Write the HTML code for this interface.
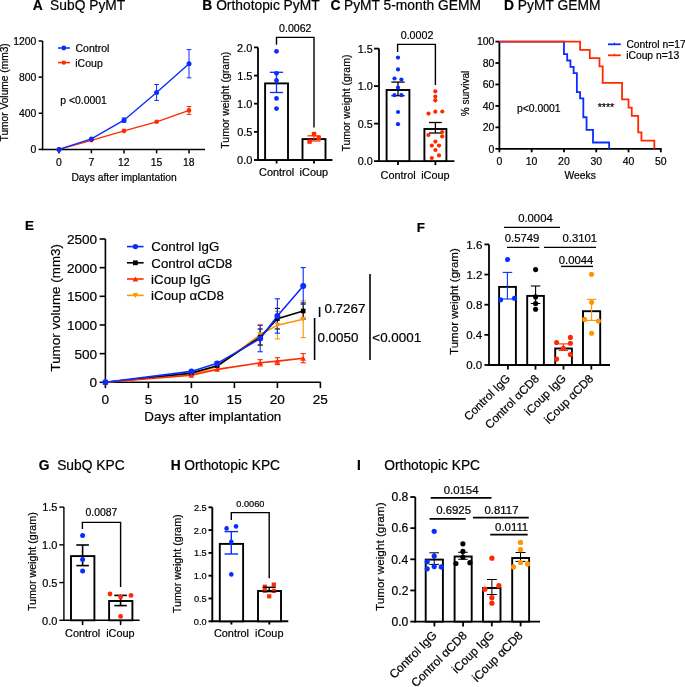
<!DOCTYPE html>
<html><head><meta charset="utf-8"><style>
html,body{margin:0;padding:0;background:#fff;}
svg{display:block;will-change:transform;}
text{font-family:"Liberation Sans",sans-serif;stroke:currentColor;stroke-width:0.2px;}
</style></head><body>
<svg width="685" height="687" viewBox="0 0 685 687">
<rect width="685" height="687" fill="#fff"/>
<text x="32.76" y="9.70" font-size="13.8" font-weight="bold" fill="#000">A</text>
<text x="50.08" y="9.70" font-size="13.8" fill="#000">SubQ PyMT</text>
<line x1="42.60" y1="41.00" x2="42.60" y2="150.20" stroke="#000" stroke-width="1.5" stroke-linecap="butt"/>
<line x1="38.60" y1="149.40" x2="42.60" y2="149.40" stroke="#000" stroke-width="1.5" stroke-linecap="butt"/>
<text x="30.62" y="153.42" font-size="10.4" fill="#000">0</text>
<line x1="38.60" y1="113.27" x2="42.60" y2="113.27" stroke="#000" stroke-width="1.5" stroke-linecap="butt"/>
<text x="19.05" y="117.29" font-size="10.4" fill="#000">400</text>
<line x1="38.60" y1="77.13" x2="42.60" y2="77.13" stroke="#000" stroke-width="1.5" stroke-linecap="butt"/>
<text x="19.05" y="81.16" font-size="10.4" fill="#000">800</text>
<line x1="38.60" y1="41.00" x2="42.60" y2="41.00" stroke="#000" stroke-width="1.5" stroke-linecap="butt"/>
<text x="13.28" y="45.02" font-size="10.4" fill="#000">1200</text>
<line x1="41.85" y1="149.40" x2="205.00" y2="149.40" stroke="#000" stroke-width="1.5" stroke-linecap="butt"/>
<line x1="59.00" y1="149.40" x2="59.00" y2="153.40" stroke="#000" stroke-width="1.5" stroke-linecap="butt"/>
<text x="56.10" y="166.32" font-size="10.4" fill="#000">0</text>
<line x1="91.40" y1="149.40" x2="91.40" y2="153.40" stroke="#000" stroke-width="1.5" stroke-linecap="butt"/>
<text x="88.50" y="166.32" font-size="10.4" fill="#000">7</text>
<line x1="124.00" y1="149.40" x2="124.00" y2="153.40" stroke="#000" stroke-width="1.5" stroke-linecap="butt"/>
<text x="118.10" y="166.32" font-size="10.4" fill="#000">12</text>
<line x1="156.60" y1="149.40" x2="156.60" y2="153.40" stroke="#000" stroke-width="1.5" stroke-linecap="butt"/>
<text x="150.65" y="166.32" font-size="10.4" fill="#000">15</text>
<line x1="189.00" y1="149.40" x2="189.00" y2="153.40" stroke="#000" stroke-width="1.5" stroke-linecap="butt"/>
<text x="183.06" y="166.32" font-size="10.4" fill="#000">18</text>
<text x="71.44" y="181.30" font-size="10.3" fill="#000">Days after implantation</text>
<text transform="translate(8.20,141.41) rotate(-90)" font-size="10.2" fill="#000">Tumor Volume (mm3)</text>
<line x1="58.00" y1="48.00" x2="70.00" y2="48.00" stroke="#0a2dff" stroke-width="1.5" stroke-linecap="butt"/>
<circle cx="63.80" cy="48.00" r="2.4" fill="#0a2dff"/>
<text x="75.47" y="52.06" font-size="10.5" fill="#000">Control</text>
<line x1="58.00" y1="62.60" x2="70.00" y2="62.60" stroke="#ff2a00" stroke-width="1.5" stroke-linecap="butt"/>
<circle cx="63.80" cy="62.60" r="2.2" fill="#ff2a00"/>
<text x="75.29" y="66.66" font-size="10.5" fill="#000">iCoup</text>
<text x="60.32" y="103.92" font-size="10.4" fill="#000">p &lt;0.0001</text>
<line x1="189.00" y1="49.60" x2="189.00" y2="77.80" stroke="#0a2dff" stroke-width="1.0" stroke-linecap="butt"/>
<line x1="186.70" y1="49.60" x2="191.30" y2="49.60" stroke="#0a2dff" stroke-width="1.0" stroke-linecap="butt"/>
<line x1="186.70" y1="77.80" x2="191.30" y2="77.80" stroke="#0a2dff" stroke-width="1.0" stroke-linecap="butt"/>
<line x1="156.60" y1="84.50" x2="156.60" y2="100.40" stroke="#0a2dff" stroke-width="1.0" stroke-linecap="butt"/>
<line x1="154.30" y1="84.50" x2="158.90" y2="84.50" stroke="#0a2dff" stroke-width="1.0" stroke-linecap="butt"/>
<line x1="154.30" y1="100.40" x2="158.90" y2="100.40" stroke="#0a2dff" stroke-width="1.0" stroke-linecap="butt"/>
<line x1="124.00" y1="118.00" x2="124.00" y2="122.40" stroke="#0a2dff" stroke-width="1.0" stroke-linecap="butt"/>
<line x1="121.70" y1="118.00" x2="126.30" y2="118.00" stroke="#0a2dff" stroke-width="1.0" stroke-linecap="butt"/>
<line x1="121.70" y1="122.40" x2="126.30" y2="122.40" stroke="#0a2dff" stroke-width="1.0" stroke-linecap="butt"/>
<line x1="189.00" y1="106.50" x2="189.00" y2="114.40" stroke="#ff2a00" stroke-width="1.0" stroke-linecap="butt"/>
<line x1="186.70" y1="106.50" x2="191.30" y2="106.50" stroke="#ff2a00" stroke-width="1.0" stroke-linecap="butt"/>
<line x1="186.70" y1="114.40" x2="191.30" y2="114.40" stroke="#ff2a00" stroke-width="1.0" stroke-linecap="butt"/>
<polyline points="59.00,149.40 91.40,140.30 124.00,130.90 156.60,121.80 189.00,110.40" fill="none" stroke="#ff2a00" stroke-width="1.4" stroke-linejoin="miter"/>
<polyline points="59.00,149.40 91.40,138.90 124.00,120.20 156.60,92.50 189.00,63.80" fill="none" stroke="#0a2dff" stroke-width="1.4" stroke-linejoin="miter"/>
<circle cx="59.00" cy="149.40" r="2.3" fill="#ff2a00"/>
<circle cx="91.40" cy="140.30" r="2.3" fill="#ff2a00"/>
<circle cx="124.00" cy="130.90" r="2.3" fill="#ff2a00"/>
<circle cx="156.60" cy="121.80" r="2.3" fill="#ff2a00"/>
<circle cx="189.00" cy="110.40" r="2.3" fill="#ff2a00"/>
<circle cx="59.00" cy="149.40" r="2.5" fill="#0a2dff"/>
<circle cx="91.40" cy="138.90" r="2.5" fill="#0a2dff"/>
<circle cx="124.00" cy="120.20" r="2.5" fill="#0a2dff"/>
<circle cx="156.60" cy="92.50" r="2.5" fill="#0a2dff"/>
<circle cx="189.00" cy="63.80" r="2.5" fill="#0a2dff"/>
<text x="202.27" y="9.70" font-size="13.8" font-weight="bold" fill="#000">B</text>
<text x="216.14" y="9.70" font-size="13.8" fill="#000">Orthotopic PyMT</text>
<line x1="258.00" y1="47.40" x2="258.00" y2="160.80" stroke="#000" stroke-width="1.8" stroke-linecap="butt"/>
<line x1="254.00" y1="160.00" x2="258.00" y2="160.00" stroke="#000" stroke-width="1.8" stroke-linecap="butt"/>
<text x="237.12" y="164.44" font-size="11.0" fill="#000">0.0</text>
<line x1="254.00" y1="131.85" x2="258.00" y2="131.85" stroke="#000" stroke-width="1.8" stroke-linecap="butt"/>
<text x="237.15" y="136.29" font-size="11.0" fill="#000">0.5</text>
<line x1="254.00" y1="103.70" x2="258.00" y2="103.70" stroke="#000" stroke-width="1.8" stroke-linecap="butt"/>
<text x="237.12" y="108.14" font-size="11.0" fill="#000">1.0</text>
<line x1="254.00" y1="75.55" x2="258.00" y2="75.55" stroke="#000" stroke-width="1.8" stroke-linecap="butt"/>
<text x="237.15" y="79.99" font-size="11.0" fill="#000">1.5</text>
<line x1="254.00" y1="47.40" x2="258.00" y2="47.40" stroke="#000" stroke-width="1.8" stroke-linecap="butt"/>
<text x="237.12" y="51.84" font-size="11.0" fill="#000">2.0</text>
<line x1="257.10" y1="160.00" x2="332.40" y2="160.00" stroke="#000" stroke-width="1.8" stroke-linecap="butt"/>
<line x1="276.60" y1="160.00" x2="276.60" y2="163.50" stroke="#000" stroke-width="1.8" stroke-linecap="butt"/>
<line x1="314.00" y1="160.00" x2="314.00" y2="163.50" stroke="#000" stroke-width="1.8" stroke-linecap="butt"/>
<text x="259.12" y="175.90" font-size="10.9" fill="#000">Control</text>
<text x="299.61" y="175.90" font-size="10.9" fill="#000">iCoup</text>
<text transform="translate(228.71,148.71) rotate(-90)" font-size="10.5" fill="#000">Tumor weight (gram)</text>
<rect x="265.10" y="83.40" width="22.90" height="76.60" fill="#fff" stroke="#000" stroke-width="1.9"/>
<rect x="302.50" y="139.10" width="23.00" height="20.90" fill="#fff" stroke="#000" stroke-width="1.9"/>
<line x1="276.50" y1="72.30" x2="276.50" y2="92.50" stroke="#0a2dff" stroke-width="1.3" stroke-linecap="butt"/>
<line x1="269.90" y1="72.30" x2="283.10" y2="72.30" stroke="#0a2dff" stroke-width="1.3" stroke-linecap="butt"/>
<line x1="269.90" y1="92.50" x2="283.10" y2="92.50" stroke="#0a2dff" stroke-width="1.3" stroke-linecap="butt"/>
<circle cx="276.50" cy="51.30" r="2.4" fill="#0a2dff"/>
<circle cx="276.50" cy="73.30" r="2.4" fill="#0a2dff"/>
<circle cx="276.50" cy="80.50" r="2.4" fill="#0a2dff"/>
<circle cx="276.50" cy="98.40" r="2.4" fill="#0a2dff"/>
<circle cx="276.50" cy="108.60" r="2.4" fill="#0a2dff"/>
<line x1="314.00" y1="135.80" x2="314.00" y2="141.00" stroke="#ff2a00" stroke-width="1.2" stroke-linecap="butt"/>
<line x1="307.50" y1="135.80" x2="320.50" y2="135.80" stroke="#ff2a00" stroke-width="1.2" stroke-linecap="butt"/>
<line x1="307.50" y1="141.00" x2="320.50" y2="141.00" stroke="#ff2a00" stroke-width="1.2" stroke-linecap="butt"/>
<rect x="307.40" y="139.40" width="4.4" height="4.4" fill="#ff2a00"/>
<rect x="311.80" y="131.80" width="4.4" height="4.4" fill="#ff2a00"/>
<rect x="316.50" y="135.90" width="4.4" height="4.4" fill="#ff2a00"/>
<polyline points="276.50,44.80 276.50,37.40 314.00,37.40 314.00,127.60" fill="none" stroke="#000" stroke-width="1.4" stroke-linejoin="miter"/>
<text x="279.05" y="32.19" font-size="10.6" fill="#000">0.0062</text>
<text x="330.55" y="9.70" font-size="13.8" font-weight="bold" fill="#000">C</text>
<text x="343.96" y="9.70" font-size="13.8" fill="#000">PyMT 5-month GEMM</text>
<line x1="379.00" y1="48.60" x2="379.00" y2="161.90" stroke="#000" stroke-width="1.8" stroke-linecap="butt"/>
<line x1="374.00" y1="161.10" x2="379.00" y2="161.10" stroke="#000" stroke-width="1.8" stroke-linecap="butt"/>
<text x="357.69" y="165.47" font-size="10.8" fill="#000">0.0</text>
<line x1="374.00" y1="123.60" x2="379.00" y2="123.60" stroke="#000" stroke-width="1.8" stroke-linecap="butt"/>
<text x="357.72" y="127.97" font-size="10.8" fill="#000">0.5</text>
<line x1="374.00" y1="86.10" x2="379.00" y2="86.10" stroke="#000" stroke-width="1.8" stroke-linecap="butt"/>
<text x="357.69" y="90.47" font-size="10.8" fill="#000">1.0</text>
<line x1="374.00" y1="48.60" x2="379.00" y2="48.60" stroke="#000" stroke-width="1.8" stroke-linecap="butt"/>
<text x="357.72" y="52.97" font-size="10.8" fill="#000">1.5</text>
<line x1="378.10" y1="161.10" x2="454.40" y2="161.10" stroke="#000" stroke-width="1.8" stroke-linecap="butt"/>
<line x1="398.00" y1="161.10" x2="398.00" y2="165.10" stroke="#000" stroke-width="1.8" stroke-linecap="butt"/>
<line x1="435.40" y1="161.10" x2="435.40" y2="165.10" stroke="#000" stroke-width="1.8" stroke-linecap="butt"/>
<text x="380.52" y="178.90" font-size="10.9" fill="#000">Control</text>
<text x="421.21" y="178.90" font-size="10.9" fill="#000">iCoup</text>
<text transform="translate(349.91,151.61) rotate(-90)" font-size="10.5" fill="#000">Tumor weight (gram)</text>
<rect x="386.60" y="90.00" width="22.80" height="71.10" fill="#fff" stroke="#000" stroke-width="1.9"/>
<rect x="424.40" y="129.00" width="22.00" height="32.10" fill="#fff" stroke="#000" stroke-width="1.9"/>
<line x1="398.00" y1="82.10" x2="398.00" y2="95.70" stroke="#000" stroke-width="1.3" stroke-linecap="butt"/>
<line x1="391.35" y1="82.10" x2="404.65" y2="82.10" stroke="#000" stroke-width="1.3" stroke-linecap="butt"/>
<line x1="391.35" y1="95.70" x2="404.65" y2="95.70" stroke="#000" stroke-width="1.3" stroke-linecap="butt"/>
<circle cx="398.00" cy="57.60" r="2.1" fill="#0a2dff"/>
<circle cx="398.00" cy="69.40" r="2.1" fill="#0a2dff"/>
<circle cx="394.50" cy="78.50" r="2.1" fill="#0a2dff"/>
<circle cx="401.40" cy="79.50" r="2.1" fill="#0a2dff"/>
<circle cx="398.00" cy="87.50" r="2.1" fill="#0a2dff"/>
<circle cx="394.50" cy="95.20" r="2.1" fill="#0a2dff"/>
<circle cx="401.40" cy="95.20" r="2.1" fill="#0a2dff"/>
<circle cx="398.00" cy="112.00" r="2.1" fill="#0a2dff"/>
<circle cx="398.00" cy="124.20" r="2.1" fill="#0a2dff"/>
<line x1="435.40" y1="122.50" x2="435.40" y2="133.00" stroke="#000" stroke-width="1.3" stroke-linecap="butt"/>
<line x1="429.00" y1="122.50" x2="441.80" y2="122.50" stroke="#000" stroke-width="1.3" stroke-linecap="butt"/>
<line x1="429.00" y1="133.00" x2="441.80" y2="133.00" stroke="#000" stroke-width="1.3" stroke-linecap="butt"/>
<circle cx="435.30" cy="91.30" r="2.1" fill="#ff2a00"/>
<circle cx="435.30" cy="96.70" r="2.1" fill="#ff2a00"/>
<circle cx="435.30" cy="100.30" r="2.1" fill="#ff2a00"/>
<circle cx="428.50" cy="113.60" r="2.1" fill="#ff2a00"/>
<circle cx="435.30" cy="111.70" r="2.1" fill="#ff2a00"/>
<circle cx="442.30" cy="111.50" r="2.1" fill="#ff2a00"/>
<circle cx="428.40" cy="135.00" r="2.1" fill="#ff2a00"/>
<circle cx="442.20" cy="132.00" r="2.1" fill="#ff2a00"/>
<circle cx="442.20" cy="136.40" r="2.1" fill="#ff2a00"/>
<circle cx="435.40" cy="141.60" r="2.1" fill="#ff2a00"/>
<circle cx="431.80" cy="145.60" r="2.1" fill="#ff2a00"/>
<circle cx="439.00" cy="145.60" r="2.1" fill="#ff2a00"/>
<circle cx="435.40" cy="150.00" r="2.1" fill="#ff2a00"/>
<circle cx="431.80" cy="158.00" r="2.1" fill="#ff2a00"/>
<circle cx="439.00" cy="155.40" r="2.1" fill="#ff2a00"/>
<polyline points="397.60,52.00 397.60,44.40 435.40,44.40 435.40,85.00" fill="none" stroke="#000" stroke-width="1.4" stroke-linejoin="miter"/>
<text x="400.70" y="39.43" font-size="10.7" fill="#000">0.0002</text>
<text x="504.07" y="9.70" font-size="13.8" font-weight="bold" fill="#000">D</text>
<text x="517.86" y="9.70" font-size="13.8" fill="#000">PyMT GEMM</text>
<line x1="499.40" y1="41.60" x2="499.40" y2="149.60" stroke="#000" stroke-width="1.8" stroke-linecap="butt"/>
<line x1="495.40" y1="148.80" x2="499.40" y2="148.80" stroke="#000" stroke-width="1.8" stroke-linecap="butt"/>
<text x="488.57" y="152.56" font-size="10.5" fill="#000">0</text>
<line x1="495.40" y1="127.36" x2="499.40" y2="127.36" stroke="#000" stroke-width="1.8" stroke-linecap="butt"/>
<text x="482.74" y="131.12" font-size="10.5" fill="#000">20</text>
<line x1="495.40" y1="105.92" x2="499.40" y2="105.92" stroke="#000" stroke-width="1.8" stroke-linecap="butt"/>
<text x="482.74" y="109.68" font-size="10.5" fill="#000">40</text>
<line x1="495.40" y1="84.48" x2="499.40" y2="84.48" stroke="#000" stroke-width="1.8" stroke-linecap="butt"/>
<text x="482.74" y="88.24" font-size="10.5" fill="#000">60</text>
<line x1="495.40" y1="63.04" x2="499.40" y2="63.04" stroke="#000" stroke-width="1.8" stroke-linecap="butt"/>
<text x="482.74" y="66.80" font-size="10.5" fill="#000">80</text>
<line x1="495.40" y1="41.60" x2="499.40" y2="41.60" stroke="#000" stroke-width="1.8" stroke-linecap="butt"/>
<text x="476.88" y="45.36" font-size="10.5" fill="#000">100</text>
<line x1="498.50" y1="148.80" x2="661.60" y2="148.80" stroke="#000" stroke-width="1.8" stroke-linecap="butt"/>
<line x1="499.40" y1="148.80" x2="499.40" y2="152.30" stroke="#000" stroke-width="1.8" stroke-linecap="butt"/>
<text x="496.47" y="164.76" font-size="10.5" fill="#000">0</text>
<line x1="531.68" y1="148.80" x2="531.68" y2="152.30" stroke="#000" stroke-width="1.8" stroke-linecap="butt"/>
<text x="525.66" y="164.76" font-size="10.5" fill="#000">10</text>
<line x1="563.96" y1="148.80" x2="563.96" y2="152.30" stroke="#000" stroke-width="1.8" stroke-linecap="butt"/>
<text x="558.07" y="164.76" font-size="10.5" fill="#000">20</text>
<line x1="596.24" y1="148.80" x2="596.24" y2="152.30" stroke="#000" stroke-width="1.8" stroke-linecap="butt"/>
<text x="590.41" y="164.76" font-size="10.5" fill="#000">30</text>
<line x1="628.52" y1="148.80" x2="628.52" y2="152.30" stroke="#000" stroke-width="1.8" stroke-linecap="butt"/>
<text x="622.77" y="164.76" font-size="10.5" fill="#000">40</text>
<line x1="660.80" y1="148.80" x2="660.80" y2="152.30" stroke="#000" stroke-width="1.8" stroke-linecap="butt"/>
<text x="654.96" y="164.76" font-size="10.5" fill="#000">50</text>
<text x="564.51" y="178.89" font-size="10.3" fill="#000">Weeks</text>
<text transform="translate(469.35,116.22) rotate(-90)" font-size="10.0" fill="#000">% survival</text>
<polyline points="499.40,41.58 563.96,41.58 563.96,54.19 567.19,54.19 567.19,60.50 570.42,60.50 570.42,66.81 573.64,66.81 573.64,73.11 576.87,73.11 576.87,92.04 580.10,92.04 580.10,98.34 583.33,98.34 583.33,117.27 586.56,117.27 586.56,129.88 593.01,129.88 593.01,142.50 609.15,142.50 609.15,148.80" fill="none" stroke="#0a2dff" stroke-width="1.8" stroke-linejoin="miter"/>
<polyline points="499.40,41.58 580.10,41.58 580.10,49.83 589.78,49.83 589.78,58.07 599.47,58.07 599.47,66.33 602.70,66.33 602.70,82.82 622.06,82.82 622.06,99.32 628.52,99.32 628.52,107.56 631.75,107.56 631.75,115.81 638.20,115.81 638.20,132.31 641.43,132.31 641.43,140.55 654.34,140.55 654.34,148.80" fill="none" stroke="#ff2a00" stroke-width="1.8" stroke-linejoin="miter"/>
<line x1="608.00" y1="44.30" x2="620.80" y2="44.30" stroke="#0a2dff" stroke-width="1.8" stroke-linecap="butt"/>
<line x1="614.40" y1="42.60" x2="614.40" y2="44.30" stroke="#0a2dff" stroke-width="1.0" stroke-linecap="butt"/>
<line x1="608.00" y1="55.30" x2="620.80" y2="55.30" stroke="#ff2a00" stroke-width="1.8" stroke-linecap="butt"/>
<line x1="614.40" y1="53.60" x2="614.40" y2="55.30" stroke="#ff2a00" stroke-width="1.0" stroke-linecap="butt"/>
<text x="626.38" y="48.19" font-size="10.3" fill="#000">Control n=17</text>
<text x="626.20" y="59.19" font-size="10.3" fill="#000">iCoup n=13</text>
<text x="516.92" y="111.72" font-size="10.4" fill="#000">p&lt;0.0001</text>
<text x="597.71" y="110.69" font-size="10.6" fill="#000">****</text>
<text x="24.90" y="230.20" font-size="13.4" font-weight="bold" fill="#000">E</text>
<line x1="105.40" y1="239.00" x2="105.40" y2="383.10" stroke="#000" stroke-width="1.6" stroke-linecap="butt"/>
<line x1="99.60" y1="382.30" x2="105.40" y2="382.30" stroke="#000" stroke-width="1.6" stroke-linecap="butt"/>
<text x="89.56" y="387.47" font-size="13.6" fill="#000">0</text>
<line x1="99.60" y1="353.64" x2="105.40" y2="353.64" stroke="#000" stroke-width="1.6" stroke-linecap="butt"/>
<text x="74.43" y="358.81" font-size="13.6" fill="#000">500</text>
<line x1="99.60" y1="324.98" x2="105.40" y2="324.98" stroke="#000" stroke-width="1.6" stroke-linecap="butt"/>
<text x="66.88" y="330.15" font-size="13.6" fill="#000">1000</text>
<line x1="99.60" y1="296.32" x2="105.40" y2="296.32" stroke="#000" stroke-width="1.6" stroke-linecap="butt"/>
<text x="66.88" y="301.49" font-size="13.6" fill="#000">1500</text>
<line x1="99.60" y1="267.66" x2="105.40" y2="267.66" stroke="#000" stroke-width="1.6" stroke-linecap="butt"/>
<text x="66.88" y="272.83" font-size="13.6" fill="#000">2000</text>
<line x1="99.60" y1="239.00" x2="105.40" y2="239.00" stroke="#000" stroke-width="1.6" stroke-linecap="butt"/>
<text x="66.88" y="244.17" font-size="13.6" fill="#000">2500</text>
<line x1="104.60" y1="382.30" x2="320.80" y2="382.30" stroke="#000" stroke-width="1.6" stroke-linecap="butt"/>
<line x1="105.40" y1="382.30" x2="105.40" y2="388.10" stroke="#000" stroke-width="1.6" stroke-linecap="butt"/>
<text x="101.61" y="403.87" font-size="13.6" fill="#000">0</text>
<line x1="148.40" y1="382.30" x2="148.40" y2="388.10" stroke="#000" stroke-width="1.6" stroke-linecap="butt"/>
<text x="144.63" y="403.87" font-size="13.6" fill="#000">5</text>
<line x1="191.40" y1="382.30" x2="191.40" y2="388.10" stroke="#000" stroke-width="1.6" stroke-linecap="butt"/>
<text x="183.60" y="403.87" font-size="13.6" fill="#000">10</text>
<line x1="234.40" y1="382.30" x2="234.40" y2="388.10" stroke="#000" stroke-width="1.6" stroke-linecap="butt"/>
<text x="226.61" y="403.87" font-size="13.6" fill="#000">15</text>
<line x1="277.40" y1="382.30" x2="277.40" y2="388.10" stroke="#000" stroke-width="1.6" stroke-linecap="butt"/>
<text x="269.77" y="403.87" font-size="13.6" fill="#000">20</text>
<line x1="320.40" y1="382.30" x2="320.40" y2="388.10" stroke="#000" stroke-width="1.6" stroke-linecap="butt"/>
<text x="312.78" y="403.87" font-size="13.6" fill="#000">25</text>
<text x="144.36" y="421.10" font-size="13.4" fill="#000">Days after implantation</text>
<text transform="translate(59.61,371.52) rotate(-90)" font-size="13.4" fill="#000">Tumor volume (mm3)</text>
<line x1="127.00" y1="246.60" x2="143.60" y2="246.60" stroke="#0a2dff" stroke-width="1.6" stroke-linecap="butt"/>
<circle cx="135.40" cy="246.60" r="2.7" fill="#0a2dff"/>
<text x="151.34" y="251.36" font-size="13.3" fill="#000">Control IgG</text>
<line x1="127.00" y1="262.80" x2="143.60" y2="262.80" stroke="#000" stroke-width="1.6" stroke-linecap="butt"/>
<rect x="133.00" y="260.40" width="4.8" height="4.8" fill="#000"/>
<text x="151.34" y="267.56" font-size="13.3" fill="#000">Control αCD8</text>
<line x1="127.00" y1="279.00" x2="143.60" y2="279.00" stroke="#ff2a00" stroke-width="1.6" stroke-linecap="butt"/>
<polygon points="132.60,281.52 138.20,281.52 135.40,276.48" fill="#ff2a00"/>
<text x="151.10" y="283.76" font-size="13.3" fill="#000">iCoup IgG</text>
<line x1="127.00" y1="295.40" x2="143.60" y2="295.40" stroke="#ff9500" stroke-width="1.6" stroke-linecap="butt"/>
<polygon points="132.60,292.88 138.20,292.88 135.40,297.92" fill="#ff9500"/>
<text x="151.10" y="300.16" font-size="13.3" fill="#000">iCoup αCD8</text>
<line x1="260.20" y1="324.41" x2="260.20" y2="345.04" stroke="#ff9500" stroke-width="1.1" stroke-linecap="butt"/>
<line x1="257.60" y1="324.41" x2="262.80" y2="324.41" stroke="#ff9500" stroke-width="1.1" stroke-linecap="butt"/>
<line x1="257.60" y1="345.04" x2="262.80" y2="345.04" stroke="#ff9500" stroke-width="1.1" stroke-linecap="butt"/>
<line x1="277.40" y1="311.40" x2="277.40" y2="338.91" stroke="#ff9500" stroke-width="1.1" stroke-linecap="butt"/>
<line x1="274.80" y1="311.40" x2="280.00" y2="311.40" stroke="#ff9500" stroke-width="1.1" stroke-linecap="butt"/>
<line x1="274.80" y1="338.91" x2="280.00" y2="338.91" stroke="#ff9500" stroke-width="1.1" stroke-linecap="butt"/>
<line x1="303.20" y1="300.85" x2="303.20" y2="337.53" stroke="#ff9500" stroke-width="1.1" stroke-linecap="butt"/>
<line x1="300.60" y1="300.85" x2="305.80" y2="300.85" stroke="#ff9500" stroke-width="1.1" stroke-linecap="butt"/>
<line x1="300.60" y1="337.53" x2="305.80" y2="337.53" stroke="#ff9500" stroke-width="1.1" stroke-linecap="butt"/>
<line x1="260.20" y1="328.99" x2="260.20" y2="345.04" stroke="#000" stroke-width="1.1" stroke-linecap="butt"/>
<line x1="257.60" y1="328.99" x2="262.80" y2="328.99" stroke="#000" stroke-width="1.1" stroke-linecap="butt"/>
<line x1="257.60" y1="345.04" x2="262.80" y2="345.04" stroke="#000" stroke-width="1.1" stroke-linecap="butt"/>
<line x1="277.40" y1="308.36" x2="277.40" y2="328.99" stroke="#000" stroke-width="1.1" stroke-linecap="butt"/>
<line x1="274.80" y1="308.36" x2="280.00" y2="308.36" stroke="#000" stroke-width="1.1" stroke-linecap="butt"/>
<line x1="274.80" y1="328.99" x2="280.00" y2="328.99" stroke="#000" stroke-width="1.1" stroke-linecap="butt"/>
<line x1="303.20" y1="302.97" x2="303.20" y2="319.02" stroke="#000" stroke-width="1.1" stroke-linecap="butt"/>
<line x1="300.60" y1="302.97" x2="305.80" y2="302.97" stroke="#000" stroke-width="1.1" stroke-linecap="butt"/>
<line x1="300.60" y1="319.02" x2="305.80" y2="319.02" stroke="#000" stroke-width="1.1" stroke-linecap="butt"/>
<line x1="260.20" y1="359.66" x2="260.20" y2="365.96" stroke="#ff2a00" stroke-width="1.1" stroke-linecap="butt"/>
<line x1="257.60" y1="359.66" x2="262.80" y2="359.66" stroke="#ff2a00" stroke-width="1.1" stroke-linecap="butt"/>
<line x1="257.60" y1="365.96" x2="262.80" y2="365.96" stroke="#ff2a00" stroke-width="1.1" stroke-linecap="butt"/>
<line x1="277.40" y1="357.71" x2="277.40" y2="364.59" stroke="#ff2a00" stroke-width="1.1" stroke-linecap="butt"/>
<line x1="274.80" y1="357.71" x2="280.00" y2="357.71" stroke="#ff2a00" stroke-width="1.1" stroke-linecap="butt"/>
<line x1="274.80" y1="364.59" x2="280.00" y2="364.59" stroke="#ff2a00" stroke-width="1.1" stroke-linecap="butt"/>
<line x1="303.20" y1="353.58" x2="303.20" y2="362.75" stroke="#ff2a00" stroke-width="1.1" stroke-linecap="butt"/>
<line x1="300.60" y1="353.58" x2="305.80" y2="353.58" stroke="#ff2a00" stroke-width="1.1" stroke-linecap="butt"/>
<line x1="300.60" y1="362.75" x2="305.80" y2="362.75" stroke="#ff2a00" stroke-width="1.1" stroke-linecap="butt"/>
<line x1="217.20" y1="361.66" x2="217.20" y2="365.10" stroke="#0a2dff" stroke-width="1.1" stroke-linecap="butt"/>
<line x1="214.60" y1="361.66" x2="219.80" y2="361.66" stroke="#0a2dff" stroke-width="1.1" stroke-linecap="butt"/>
<line x1="214.60" y1="365.10" x2="219.80" y2="365.10" stroke="#0a2dff" stroke-width="1.1" stroke-linecap="butt"/>
<line x1="260.20" y1="325.38" x2="260.20" y2="351.75" stroke="#0a2dff" stroke-width="1.1" stroke-linecap="butt"/>
<line x1="257.60" y1="325.38" x2="262.80" y2="325.38" stroke="#0a2dff" stroke-width="1.1" stroke-linecap="butt"/>
<line x1="257.60" y1="351.75" x2="262.80" y2="351.75" stroke="#0a2dff" stroke-width="1.1" stroke-linecap="butt"/>
<line x1="277.40" y1="298.78" x2="277.40" y2="333.18" stroke="#0a2dff" stroke-width="1.1" stroke-linecap="butt"/>
<line x1="274.80" y1="298.78" x2="280.00" y2="298.78" stroke="#0a2dff" stroke-width="1.1" stroke-linecap="butt"/>
<line x1="274.80" y1="333.18" x2="280.00" y2="333.18" stroke="#0a2dff" stroke-width="1.1" stroke-linecap="butt"/>
<line x1="303.20" y1="267.60" x2="303.20" y2="304.29" stroke="#0a2dff" stroke-width="1.1" stroke-linecap="butt"/>
<line x1="300.60" y1="267.60" x2="305.80" y2="267.60" stroke="#0a2dff" stroke-width="1.1" stroke-linecap="butt"/>
<line x1="300.60" y1="304.29" x2="305.80" y2="304.29" stroke="#0a2dff" stroke-width="1.1" stroke-linecap="butt"/>
<polyline points="105.40,382.30 191.40,374.28 217.20,366.82 260.20,334.72 277.40,325.15 303.20,319.19" fill="none" stroke="#ff9500" stroke-width="1.6" stroke-linejoin="miter"/>
<polyline points="105.40,382.30 191.40,373.13 217.20,365.68 260.20,337.02 277.40,318.67 303.20,310.99" fill="none" stroke="#000" stroke-width="1.6" stroke-linejoin="miter"/>
<polyline points="105.40,382.30 191.40,375.31 217.20,369.35 260.20,362.81 277.40,361.15 303.20,358.17" fill="none" stroke="#ff2a00" stroke-width="1.6" stroke-linejoin="miter"/>
<polyline points="105.40,382.30 191.40,371.41 217.20,363.38 260.20,338.56 277.40,315.98 303.20,285.95" fill="none" stroke="#0a2dff" stroke-width="1.6" stroke-linejoin="miter"/>
<polygon points="102.60,379.78 108.20,379.78 105.40,384.82" fill="#ff9500"/>
<polygon points="188.60,371.76 194.20,371.76 191.40,376.80" fill="#ff9500"/>
<polygon points="214.40,364.30 220.00,364.30 217.20,369.34" fill="#ff9500"/>
<polygon points="257.40,332.20 263.00,332.20 260.20,337.24" fill="#ff9500"/>
<polygon points="274.60,322.63 280.20,322.63 277.40,327.67" fill="#ff9500"/>
<polygon points="300.40,316.67 306.00,316.67 303.20,321.71" fill="#ff9500"/>
<rect x="103.10" y="380.00" width="4.6" height="4.6" fill="#000"/>
<rect x="189.10" y="370.83" width="4.6" height="4.6" fill="#000"/>
<rect x="214.90" y="363.38" width="4.6" height="4.6" fill="#000"/>
<rect x="257.90" y="334.72" width="4.6" height="4.6" fill="#000"/>
<rect x="275.10" y="316.37" width="4.6" height="4.6" fill="#000"/>
<rect x="300.90" y="308.69" width="4.6" height="4.6" fill="#000"/>
<polygon points="102.60,384.82 108.20,384.82 105.40,379.78" fill="#ff2a00"/>
<polygon points="188.60,377.83 194.20,377.83 191.40,372.79" fill="#ff2a00"/>
<polygon points="214.40,371.87 220.00,371.87 217.20,366.83" fill="#ff2a00"/>
<polygon points="257.40,365.33 263.00,365.33 260.20,360.29" fill="#ff2a00"/>
<polygon points="274.60,363.67 280.20,363.67 277.40,358.63" fill="#ff2a00"/>
<polygon points="300.40,360.69 306.00,360.69 303.20,355.65" fill="#ff2a00"/>
<circle cx="105.40" cy="382.30" r="3.0" fill="#0a2dff"/>
<circle cx="191.40" cy="371.41" r="3.0" fill="#0a2dff"/>
<circle cx="217.20" cy="363.38" r="3.0" fill="#0a2dff"/>
<circle cx="260.20" cy="338.56" r="3.0" fill="#0a2dff"/>
<circle cx="277.40" cy="315.98" r="3.0" fill="#0a2dff"/>
<circle cx="303.20" cy="285.95" r="3.0" fill="#0a2dff"/>
<line x1="319.60" y1="307.00" x2="319.60" y2="317.00" stroke="#000" stroke-width="1.6" stroke-linecap="butt"/>
<text x="324.46" y="313.40" font-size="13.4" fill="#000">0.7267</text>
<line x1="314.60" y1="318.00" x2="314.60" y2="360.00" stroke="#000" stroke-width="1.6" stroke-linecap="butt"/>
<text x="317.46" y="342.40" font-size="13.4" fill="#000">0.0050</text>
<line x1="370.00" y1="274.00" x2="370.00" y2="360.00" stroke="#000" stroke-width="1.6" stroke-linecap="butt"/>
<text x="372.33" y="342.40" font-size="13.4" fill="#000">&lt;0.0001</text>
<text x="416.70" y="231.60" font-size="13.4" font-weight="bold" fill="#000">F</text>
<line x1="489.00" y1="244.40" x2="489.00" y2="365.80" stroke="#000" stroke-width="1.8" stroke-linecap="butt"/>
<line x1="484.40" y1="365.00" x2="489.00" y2="365.00" stroke="#000" stroke-width="1.8" stroke-linecap="butt"/>
<text x="466.25" y="369.32" font-size="11.5" fill="#000">0.0</text>
<line x1="484.40" y1="334.85" x2="489.00" y2="334.85" stroke="#000" stroke-width="1.8" stroke-linecap="butt"/>
<text x="466.13" y="339.17" font-size="11.5" fill="#000">0.4</text>
<line x1="484.40" y1="304.70" x2="489.00" y2="304.70" stroke="#000" stroke-width="1.8" stroke-linecap="butt"/>
<text x="466.30" y="309.02" font-size="11.5" fill="#000">0.8</text>
<line x1="484.40" y1="274.55" x2="489.00" y2="274.55" stroke="#000" stroke-width="1.8" stroke-linecap="butt"/>
<text x="466.39" y="278.87" font-size="11.5" fill="#000">1.2</text>
<line x1="484.40" y1="244.40" x2="489.00" y2="244.40" stroke="#000" stroke-width="1.8" stroke-linecap="butt"/>
<text x="466.30" y="248.72" font-size="11.5" fill="#000">1.6</text>
<line x1="488.10" y1="365.00" x2="610.00" y2="365.00" stroke="#000" stroke-width="1.8" stroke-linecap="butt"/>
<line x1="507.90" y1="365.00" x2="507.90" y2="369.60" stroke="#000" stroke-width="1.8" stroke-linecap="butt"/>
<line x1="535.50" y1="365.00" x2="535.50" y2="369.60" stroke="#000" stroke-width="1.8" stroke-linecap="butt"/>
<line x1="563.50" y1="365.00" x2="563.50" y2="369.60" stroke="#000" stroke-width="1.8" stroke-linecap="butt"/>
<line x1="591.30" y1="365.00" x2="591.30" y2="369.60" stroke="#000" stroke-width="1.8" stroke-linecap="butt"/>
<text transform="translate(458.17,354.94) rotate(-90)" font-size="11.55" fill="#000">Tumor weight (gram)</text>
<text transform="translate(468.71,421.27) rotate(-45)" font-size="11.7" fill="#000">Control IgG</text>
<text transform="translate(489.67,429.55) rotate(-45)" font-size="11.7" fill="#000">Control αCD8</text>
<text transform="translate(529.35,416.23) rotate(-45)" font-size="11.7" fill="#000">iCoup IgG</text>
<text transform="translate(548.90,424.48) rotate(-45)" font-size="11.7" fill="#000">iCoup αCD8</text>
<rect x="499.10" y="286.90" width="16.80" height="78.10" fill="#fff" stroke="#000" stroke-width="1.9"/>
<rect x="527.20" y="295.90" width="16.70" height="69.10" fill="#fff" stroke="#000" stroke-width="1.9"/>
<rect x="555.20" y="348.50" width="16.70" height="16.50" fill="#fff" stroke="#000" stroke-width="1.9"/>
<rect x="583.00" y="311.20" width="17.20" height="53.80" fill="#fff" stroke="#000" stroke-width="1.9"/>
<line x1="507.40" y1="272.40" x2="507.40" y2="299.00" stroke="#0a2dff" stroke-width="1.1" stroke-linecap="butt"/>
<line x1="502.60" y1="272.40" x2="512.20" y2="272.40" stroke="#0a2dff" stroke-width="1.1" stroke-linecap="butt"/>
<line x1="502.60" y1="299.00" x2="512.20" y2="299.00" stroke="#0a2dff" stroke-width="1.1" stroke-linecap="butt"/>
<line x1="535.60" y1="286.00" x2="535.60" y2="303.50" stroke="#000" stroke-width="1.1" stroke-linecap="butt"/>
<line x1="530.85" y1="286.00" x2="540.35" y2="286.00" stroke="#000" stroke-width="1.1" stroke-linecap="butt"/>
<line x1="530.85" y1="303.50" x2="540.35" y2="303.50" stroke="#000" stroke-width="1.1" stroke-linecap="butt"/>
<line x1="563.40" y1="343.90" x2="563.40" y2="350.50" stroke="#ff2a00" stroke-width="1.1" stroke-linecap="butt"/>
<line x1="558.65" y1="343.90" x2="568.15" y2="343.90" stroke="#ff2a00" stroke-width="1.1" stroke-linecap="butt"/>
<line x1="558.65" y1="350.50" x2="568.15" y2="350.50" stroke="#ff2a00" stroke-width="1.1" stroke-linecap="butt"/>
<line x1="591.60" y1="299.40" x2="591.60" y2="320.40" stroke="#ff9500" stroke-width="1.1" stroke-linecap="butt"/>
<line x1="586.90" y1="299.40" x2="596.30" y2="299.40" stroke="#ff9500" stroke-width="1.1" stroke-linecap="butt"/>
<line x1="586.90" y1="320.40" x2="596.30" y2="320.40" stroke="#ff9500" stroke-width="1.1" stroke-linecap="butt"/>
<circle cx="507.60" cy="259.50" r="2.55" fill="#0a2dff"/>
<circle cx="500.60" cy="299.70" r="2.55" fill="#0a2dff"/>
<circle cx="514.50" cy="298.30" r="2.55" fill="#0a2dff"/>
<circle cx="535.60" cy="269.60" r="2.55" fill="#000"/>
<circle cx="535.60" cy="296.90" r="2.55" fill="#000"/>
<circle cx="535.60" cy="303.50" r="2.55" fill="#000"/>
<circle cx="535.60" cy="309.30" r="2.55" fill="#000"/>
<circle cx="556.60" cy="342.50" r="2.55" fill="#ff2a00"/>
<circle cx="570.40" cy="337.40" r="2.55" fill="#ff2a00"/>
<circle cx="570.40" cy="343.20" r="2.55" fill="#ff2a00"/>
<circle cx="563.40" cy="348.40" r="2.55" fill="#ff2a00"/>
<circle cx="570.40" cy="354.50" r="2.55" fill="#ff2a00"/>
<circle cx="556.60" cy="359.10" r="2.55" fill="#ff2a00"/>
<circle cx="591.50" cy="274.30" r="2.55" fill="#ff9500"/>
<circle cx="591.60" cy="302.30" r="2.55" fill="#ff9500"/>
<circle cx="584.60" cy="319.40" r="2.55" fill="#ff9500"/>
<circle cx="598.40" cy="321.00" r="2.55" fill="#ff9500"/>
<circle cx="591.60" cy="333.20" r="2.55" fill="#ff9500"/>
<line x1="504.00" y1="227.40" x2="560.00" y2="227.40" stroke="#000" stroke-width="1.4" stroke-linecap="butt"/>
<text x="518.15" y="221.65" font-size="11.3" fill="#000">0.0004</text>
<line x1="507.00" y1="247.40" x2="539.40" y2="247.40" stroke="#000" stroke-width="1.4" stroke-linecap="butt"/>
<text x="504.75" y="242.05" font-size="11.3" fill="#000">0.5749</text>
<line x1="544.00" y1="247.40" x2="596.00" y2="247.40" stroke="#000" stroke-width="1.4" stroke-linecap="butt"/>
<text x="562.59" y="242.05" font-size="11.3" fill="#000">0.3101</text>
<line x1="561.00" y1="266.40" x2="593.00" y2="266.40" stroke="#000" stroke-width="1.4" stroke-linecap="butt"/>
<text x="558.76" y="263.65" font-size="11.3" fill="#000">0.0044</text>
<text x="38.85" y="469.70" font-size="13.8" font-weight="bold" fill="#000">G</text>
<text x="57.18" y="469.70" font-size="13.8" fill="#000">SubQ KPC</text>
<line x1="63.90" y1="507.00" x2="63.90" y2="621.00" stroke="#000" stroke-width="1.4" stroke-linecap="butt"/>
<line x1="59.30" y1="620.30" x2="63.90" y2="620.30" stroke="#000" stroke-width="1.4" stroke-linecap="butt"/>
<text x="42.12" y="624.64" font-size="11.0" fill="#000">0.0</text>
<line x1="59.30" y1="582.58" x2="63.90" y2="582.58" stroke="#000" stroke-width="1.4" stroke-linecap="butt"/>
<text x="42.15" y="586.92" font-size="11.0" fill="#000">0.5</text>
<line x1="59.30" y1="544.86" x2="63.90" y2="544.86" stroke="#000" stroke-width="1.4" stroke-linecap="butt"/>
<text x="42.12" y="549.20" font-size="11.0" fill="#000">1.0</text>
<line x1="59.30" y1="507.14" x2="63.90" y2="507.14" stroke="#000" stroke-width="1.4" stroke-linecap="butt"/>
<text x="42.15" y="511.48" font-size="11.0" fill="#000">1.5</text>
<line x1="63.20" y1="620.30" x2="139.60" y2="620.30" stroke="#000" stroke-width="1.4" stroke-linecap="butt"/>
<line x1="82.60" y1="620.30" x2="82.60" y2="625.10" stroke="#000" stroke-width="1.6" stroke-linecap="butt"/>
<line x1="120.60" y1="620.30" x2="120.60" y2="625.10" stroke="#000" stroke-width="1.6" stroke-linecap="butt"/>
<text x="65.12" y="636.70" font-size="10.9" fill="#000">Control</text>
<text x="106.21" y="636.70" font-size="10.9" fill="#000">iCoup</text>
<text transform="translate(35.76,611.03) rotate(-90)" font-size="10.7" fill="#000">Tumor weight (gram)</text>
<rect x="71.00" y="556.10" width="23.40" height="64.20" fill="#fff" stroke="#000" stroke-width="1.9"/>
<rect x="109.10" y="601.00" width="23.30" height="19.30" fill="#fff" stroke="#000" stroke-width="1.9"/>
<line x1="82.60" y1="545.00" x2="82.60" y2="565.60" stroke="#000" stroke-width="1.6" stroke-linecap="butt"/>
<line x1="76.30" y1="545.00" x2="88.90" y2="545.00" stroke="#000" stroke-width="1.6" stroke-linecap="butt"/>
<line x1="76.30" y1="565.60" x2="88.90" y2="565.60" stroke="#000" stroke-width="1.6" stroke-linecap="butt"/>
<circle cx="82.60" cy="535.60" r="2.5" fill="#0a2dff"/>
<circle cx="82.60" cy="559.40" r="2.5" fill="#0a2dff"/>
<circle cx="82.60" cy="571.00" r="2.5" fill="#0a2dff"/>
<line x1="120.60" y1="595.40" x2="120.60" y2="605.60" stroke="#000" stroke-width="1.6" stroke-linecap="butt"/>
<line x1="114.30" y1="595.40" x2="126.90" y2="595.40" stroke="#000" stroke-width="1.6" stroke-linecap="butt"/>
<line x1="114.30" y1="605.60" x2="126.90" y2="605.60" stroke="#000" stroke-width="1.6" stroke-linecap="butt"/>
<circle cx="110.00" cy="594.00" r="2.4" fill="#ff2a00"/>
<circle cx="120.60" cy="597.00" r="2.4" fill="#ff2a00"/>
<circle cx="131.00" cy="595.40" r="2.4" fill="#ff2a00"/>
<circle cx="120.60" cy="616.40" r="2.4" fill="#ff2a00"/>
<polyline points="82.40,529.00 82.40,522.40 120.60,522.40 120.60,587.00" fill="none" stroke="#000" stroke-width="1.4" stroke-linejoin="miter"/>
<text x="85.55" y="516.12" font-size="10.4" fill="#000">0.0087</text>
<text x="170.77" y="469.70" font-size="13.8" font-weight="bold" fill="#000">H</text>
<text x="184.24" y="469.70" font-size="13.8" fill="#000">Orthotopic KPC</text>
<line x1="212.30" y1="507.30" x2="212.30" y2="622.10" stroke="#000" stroke-width="1.9" stroke-linecap="butt"/>
<line x1="208.50" y1="621.30" x2="212.30" y2="621.30" stroke="#000" stroke-width="1.9" stroke-linecap="butt"/>
<text x="193.86" y="624.89" font-size="9.2" fill="#000">0.0</text>
<line x1="208.50" y1="598.50" x2="212.30" y2="598.50" stroke="#000" stroke-width="1.9" stroke-linecap="butt"/>
<text x="193.88" y="602.09" font-size="9.2" fill="#000">0.5</text>
<line x1="208.50" y1="575.70" x2="212.30" y2="575.70" stroke="#000" stroke-width="1.9" stroke-linecap="butt"/>
<text x="193.86" y="579.29" font-size="9.2" fill="#000">1.0</text>
<line x1="208.50" y1="552.90" x2="212.30" y2="552.90" stroke="#000" stroke-width="1.9" stroke-linecap="butt"/>
<text x="193.88" y="556.49" font-size="9.2" fill="#000">1.5</text>
<line x1="208.50" y1="530.10" x2="212.30" y2="530.10" stroke="#000" stroke-width="1.9" stroke-linecap="butt"/>
<text x="193.86" y="533.69" font-size="9.2" fill="#000">2.0</text>
<line x1="208.50" y1="507.30" x2="212.30" y2="507.30" stroke="#000" stroke-width="1.9" stroke-linecap="butt"/>
<text x="193.88" y="510.89" font-size="9.2" fill="#000">2.5</text>
<line x1="211.35" y1="621.30" x2="288.30" y2="621.30" stroke="#000" stroke-width="1.9" stroke-linecap="butt"/>
<line x1="231.40" y1="621.30" x2="231.40" y2="624.50" stroke="#000" stroke-width="1.9" stroke-linecap="butt"/>
<line x1="269.30" y1="621.30" x2="269.30" y2="624.50" stroke="#000" stroke-width="1.9" stroke-linecap="butt"/>
<text x="213.92" y="636.90" font-size="10.9" fill="#000">Control</text>
<text x="255.01" y="636.90" font-size="10.9" fill="#000">iCoup</text>
<text transform="translate(181.36,613.13) rotate(-90)" font-size="10.7" fill="#000">Tumor weight (gram)</text>
<rect x="219.80" y="543.90" width="23.30" height="77.40" fill="#fff" stroke="#000" stroke-width="1.9"/>
<rect x="258.00" y="591.00" width="23.00" height="30.30" fill="#fff" stroke="#000" stroke-width="1.9"/>
<line x1="231.30" y1="531.60" x2="231.30" y2="554.00" stroke="#0a2dff" stroke-width="1.4" stroke-linecap="butt"/>
<line x1="224.50" y1="531.60" x2="238.10" y2="531.60" stroke="#0a2dff" stroke-width="1.4" stroke-linecap="butt"/>
<line x1="224.50" y1="554.00" x2="238.10" y2="554.00" stroke="#0a2dff" stroke-width="1.4" stroke-linecap="butt"/>
<circle cx="226.60" cy="528.40" r="2.3" fill="#0a2dff"/>
<circle cx="236.00" cy="526.40" r="2.3" fill="#0a2dff"/>
<circle cx="231.30" cy="541.90" r="2.3" fill="#0a2dff"/>
<circle cx="231.30" cy="574.40" r="2.3" fill="#0a2dff"/>
<rect x="262.70" y="584.60" width="4.2" height="4.2" fill="#ff2a00"/>
<rect x="271.70" y="582.50" width="4.2" height="4.2" fill="#ff2a00"/>
<rect x="271.70" y="588.70" width="4.2" height="4.2" fill="#ff2a00"/>
<rect x="267.10" y="594.20" width="4.2" height="4.2" fill="#ff2a00"/>
<rect x="262.70" y="588.40" width="4.2" height="4.2" fill="#ff2a00"/>
<line x1="269.20" y1="587.30" x2="269.20" y2="591.60" stroke="#000" stroke-width="1.4" stroke-linecap="butt"/>
<line x1="262.75" y1="587.30" x2="275.65" y2="587.30" stroke="#000" stroke-width="1.4" stroke-linecap="butt"/>
<line x1="262.75" y1="591.60" x2="275.65" y2="591.60" stroke="#000" stroke-width="1.4" stroke-linecap="butt"/>
<polyline points="231.30,519.90 231.30,512.60 269.20,512.60 269.20,578.20" fill="none" stroke="#000" stroke-width="1.4" stroke-linejoin="miter"/>
<text x="236.32" y="506.89" font-size="9.2" fill="#000">0.0060</text>
<text x="357.07" y="469.90" font-size="13.8" font-weight="bold" fill="#000">I</text>
<text x="384.24" y="469.90" font-size="13.8" fill="#000">Orthotopic KPC</text>
<line x1="415.30" y1="497.00" x2="415.30" y2="622.40" stroke="#000" stroke-width="1.8" stroke-linecap="butt"/>
<line x1="410.30" y1="621.60" x2="415.30" y2="621.60" stroke="#000" stroke-width="1.8" stroke-linecap="butt"/>
<text x="391.43" y="625.93" font-size="12.1" fill="#000">0.0</text>
<line x1="410.30" y1="590.45" x2="415.30" y2="590.45" stroke="#000" stroke-width="1.8" stroke-linecap="butt"/>
<text x="391.59" y="594.78" font-size="12.1" fill="#000">0.2</text>
<line x1="410.30" y1="559.30" x2="415.30" y2="559.30" stroke="#000" stroke-width="1.8" stroke-linecap="butt"/>
<text x="391.31" y="563.63" font-size="12.1" fill="#000">0.4</text>
<line x1="410.30" y1="528.15" x2="415.30" y2="528.15" stroke="#000" stroke-width="1.8" stroke-linecap="butt"/>
<text x="391.50" y="532.48" font-size="12.1" fill="#000">0.6</text>
<line x1="410.30" y1="497.00" x2="415.30" y2="497.00" stroke="#000" stroke-width="1.8" stroke-linecap="butt"/>
<text x="391.50" y="501.33" font-size="12.1" fill="#000">0.8</text>
<line x1="414.40" y1="621.60" x2="540.00" y2="621.60" stroke="#000" stroke-width="1.8" stroke-linecap="butt"/>
<line x1="434.40" y1="621.60" x2="434.40" y2="626.40" stroke="#000" stroke-width="1.8" stroke-linecap="butt"/>
<line x1="463.10" y1="621.60" x2="463.10" y2="626.40" stroke="#000" stroke-width="1.8" stroke-linecap="butt"/>
<line x1="491.80" y1="621.60" x2="491.80" y2="626.40" stroke="#000" stroke-width="1.8" stroke-linecap="butt"/>
<line x1="520.60" y1="621.60" x2="520.60" y2="626.40" stroke="#000" stroke-width="1.8" stroke-linecap="butt"/>
<text transform="translate(383.92,611.06) rotate(-90)" font-size="11.75" fill="#000">Tumor weight (gram)</text>
<text transform="translate(394.19,679.30) rotate(-45)" font-size="12.0" fill="#000">Control IgG</text>
<text transform="translate(416.09,687.78) rotate(-45)" font-size="12.0" fill="#000">Control αCD8</text>
<text transform="translate(456.77,674.12) rotate(-45)" font-size="12.0" fill="#000">iCoup IgG</text>
<text transform="translate(477.11,682.58) rotate(-45)" font-size="12.0" fill="#000">iCoup αCD8</text>
<rect x="425.70" y="559.60" width="17.20" height="62.00" fill="#fff" stroke="#000" stroke-width="1.9"/>
<rect x="454.60" y="556.50" width="17.10" height="65.10" fill="#fff" stroke="#000" stroke-width="1.9"/>
<rect x="483.00" y="588.00" width="17.50" height="33.60" fill="#fff" stroke="#000" stroke-width="1.9"/>
<rect x="512.20" y="558.00" width="16.90" height="63.60" fill="#fff" stroke="#000" stroke-width="1.9"/>
<line x1="434.20" y1="552.80" x2="434.20" y2="564.40" stroke="#000" stroke-width="1.0" stroke-linecap="butt"/>
<line x1="429.40" y1="552.80" x2="439.00" y2="552.80" stroke="#000" stroke-width="1.0" stroke-linecap="butt"/>
<line x1="429.40" y1="564.40" x2="439.00" y2="564.40" stroke="#000" stroke-width="1.0" stroke-linecap="butt"/>
<line x1="462.90" y1="552.30" x2="462.90" y2="559.30" stroke="#000" stroke-width="1.0" stroke-linecap="butt"/>
<line x1="458.10" y1="552.30" x2="467.70" y2="552.30" stroke="#000" stroke-width="1.0" stroke-linecap="butt"/>
<line x1="458.10" y1="559.30" x2="467.70" y2="559.30" stroke="#000" stroke-width="1.0" stroke-linecap="butt"/>
<line x1="491.90" y1="579.50" x2="491.90" y2="594.50" stroke="#000" stroke-width="1.0" stroke-linecap="butt"/>
<line x1="487.00" y1="579.50" x2="496.80" y2="579.50" stroke="#000" stroke-width="1.0" stroke-linecap="butt"/>
<line x1="487.00" y1="594.50" x2="496.80" y2="594.50" stroke="#000" stroke-width="1.0" stroke-linecap="butt"/>
<line x1="520.50" y1="552.50" x2="520.50" y2="561.40" stroke="#000" stroke-width="1.0" stroke-linecap="butt"/>
<line x1="515.50" y1="552.50" x2="525.50" y2="552.50" stroke="#000" stroke-width="1.0" stroke-linecap="butt"/>
<line x1="515.50" y1="561.40" x2="525.50" y2="561.40" stroke="#000" stroke-width="1.0" stroke-linecap="butt"/>
<circle cx="434.20" cy="531.30" r="2.6" fill="#0a2dff"/>
<circle cx="434.20" cy="556.10" r="2.6" fill="#0a2dff"/>
<circle cx="427.20" cy="561.80" r="2.6" fill="#0a2dff"/>
<circle cx="434.20" cy="566.60" r="2.6" fill="#0a2dff"/>
<circle cx="441.30" cy="566.90" r="2.6" fill="#0a2dff"/>
<circle cx="427.20" cy="568.80" r="2.6" fill="#0a2dff"/>
<circle cx="462.90" cy="543.80" r="2.6" fill="#000"/>
<circle cx="462.90" cy="551.40" r="2.6" fill="#000"/>
<circle cx="462.90" cy="557.00" r="2.6" fill="#000"/>
<circle cx="455.90" cy="563.50" r="2.6" fill="#000"/>
<circle cx="469.90" cy="562.70" r="2.6" fill="#000"/>
<circle cx="491.90" cy="558.20" r="2.6" fill="#ff2a00"/>
<circle cx="484.80" cy="589.20" r="2.6" fill="#ff2a00"/>
<circle cx="498.90" cy="585.70" r="2.6" fill="#ff2a00"/>
<circle cx="491.90" cy="597.70" r="2.6" fill="#ff2a00"/>
<circle cx="491.90" cy="603.20" r="2.6" fill="#ff2a00"/>
<circle cx="520.50" cy="542.40" r="2.6" fill="#ff9500"/>
<circle cx="520.50" cy="549.70" r="2.6" fill="#ff9500"/>
<circle cx="520.50" cy="562.50" r="2.6" fill="#ff9500"/>
<circle cx="513.50" cy="566.90" r="2.6" fill="#ff9500"/>
<circle cx="527.60" cy="563.90" r="2.6" fill="#ff9500"/>
<line x1="430.70" y1="497.90" x2="491.50" y2="497.90" stroke="#000" stroke-width="1.8" stroke-linecap="butt"/>
<text x="443.70" y="493.68" font-size="11.4" fill="#000">0.0154</text>
<line x1="429.60" y1="518.90" x2="465.70" y2="518.90" stroke="#000" stroke-width="1.8" stroke-linecap="butt"/>
<text x="436.17" y="513.88" font-size="11.4" fill="#000">0.6925</text>
<line x1="473.00" y1="517.70" x2="528.80" y2="517.70" stroke="#000" stroke-width="1.8" stroke-linecap="butt"/>
<text x="484.54" y="513.88" font-size="11.4" fill="#000">0.8117</text>
<line x1="490.20" y1="534.70" x2="527.70" y2="534.70" stroke="#000" stroke-width="1.8" stroke-linecap="butt"/>
<text x="495.07" y="531.08" font-size="11.4" fill="#000">0.0111</text>
</svg>
</body></html>
